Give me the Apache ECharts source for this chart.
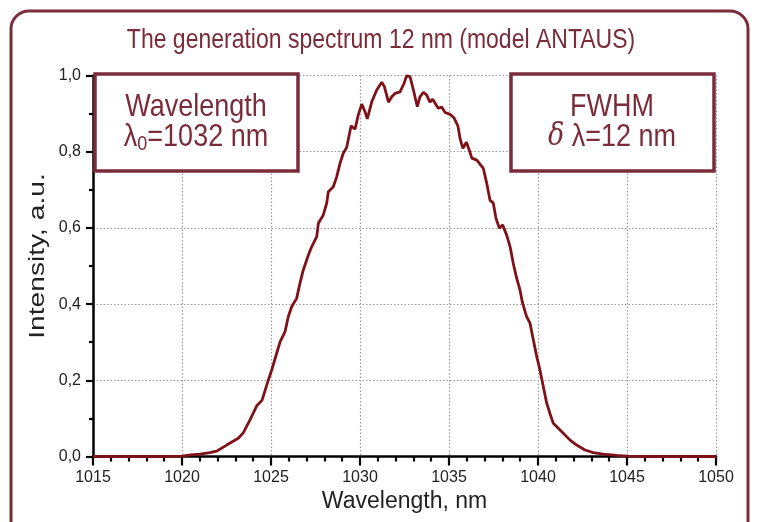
<!DOCTYPE html>
<html>
<head>
<meta charset="utf-8">
<script src="https://cdn.jsdelivr.net/npm/echarts@6/dist/echarts.min.js"></script>
<style>
html,body{margin:0;padding:0;background:#fff;}
#chart{width:758px;height:522px;}
</style>
</head>
<body>
<div id="chart"></div>
<script>
const wavelength = [1015,1016,1017,1018,1019,1020,1020.5,1021.0,1021.57,1021.95,1022.51,1023.16,1023.44,1023.82,1024.2,1024.5,1024.79,1025.04,1025.32,1025.51,1025.79,1025.97,1026.16,1026.44,1026.63,1026.81,1027.1,1027.29,1027.57,1027.66,1027.94,1028.13,1028.22,1028.5,1028.69,1028.88,1029.06,1029.25,1029.5,1029.72,1029.9,1030.1,1030.28,1030.41,1030.66,1030.94,1031.22,1031.37,1031.6,1031.78,1031.97,1032.25,1032.47,1032.62,1032.81,1033.0,1033.22,1033.37,1033.56,1033.74,1033.93,1034.08,1034.27,1034.4,1034.59,1034.78,1035.06,1035.28,1035.5,1035.62,1035.78,1035.98,1036.14,1036.28,1036.56,1036.93,1037.12,1037.3,1037.49,1037.64,1037.83,1038.01,1038.24,1038.43,1038.61,1038.8,1038.99,1039.12,1039.36,1039.55,1039.74,1039.93,1040.11,1040.3,1040.49,1040.67,1040.86,1041.14,1041.42,1041.8,1042.17,1042.64,1043.1,1043.67,1044.42,1045,1046,1047,1048,1049,1050];
const intensity = [0,0,0,0,0,0.001,0.004,0.006,0.01,0.014,0.03,0.048,0.062,0.096,0.133,0.148,0.192,0.227,0.271,0.301,0.328,0.367,0.393,0.415,0.455,0.489,0.529,0.551,0.577,0.612,0.634,0.665,0.695,0.708,0.734,0.77,0.796,0.811,0.868,0.859,0.896,0.925,0.905,0.886,0.931,0.962,0.982,0.971,0.93,0.944,0.953,0.957,0.979,0.999,0.997,0.962,0.918,0.944,0.956,0.949,0.93,0.938,0.923,0.914,0.917,0.903,0.898,0.889,0.868,0.835,0.809,0.825,0.804,0.783,0.778,0.756,0.717,0.673,0.665,0.625,0.599,0.608,0.581,0.551,0.507,0.468,0.437,0.405,0.367,0.35,0.306,0.262,0.227,0.183,0.14,0.113,0.087,0.074,0.061,0.043,0.03,0.017,0.01,0.006,0.003,0.001,0,0,0,0,0];
const xTickLabels = ['1015','1020','1025','1030','1035','1040','1045','1050'];
const yTickLabels = ['0,0','0,2','0,4','0,6','0,8','1,0'];

const titleText = 'The generation spectrum 12 nm (model ANTAUS)';
const xName = 'Wavelength, nm';
const yName = 'Intensity, a.u.';
const maroon = '#7b2c3b';
const curveColor = '#7f1218';
const font = 'Liberation Sans, Arial, sans-serif';

const chart = echarts.init(document.getElementById('chart'));
const seriesData = wavelength.map((w, i) => [w, intensity[i]]);

chart.setOption({
  animation: false,
  backgroundColor: '#fff',
  grid: {left: 93, top: 75.5, width: 623, height: 381, containLabel: false},
  xAxis: {
    type: 'value', min: 1015, max: 1050, interval: 5,
    name: xName, nameLocation: 'middle', nameGap: 31,
    nameTextStyle: {fontSize: 23, color: '#222', fontFamily: font},
    axisLine: {show: true, onZero: false, lineStyle: {color: '#000', width: 2.5}},
    axisTick: {show: true, inside: false, length: 9, lineStyle: {color: '#000', width: 2.2}},
    minorTick: {show: true, splitNumber: 5, length: 5, lineStyle: {color: '#000', width: 2.2}},
    axisLabel: {margin: 13, fontSize: 16, color: '#222', fontFamily: font,
      formatter: v => xTickLabels[Math.round((v - 1015) / 5)]},
    splitLine: {show: true, lineStyle: {type: [1.5, 2], color: '#9a9a9a', width: 1.2}}
  },
  yAxis: {
    type: 'value', min: 0, max: 1, interval: 0.2,
    axisLine: {show: true, onZero: false, lineStyle: {color: '#000', width: 2.5}},
    axisTick: {show: true, inside: false, length: 7, lineStyle: {color: '#000', width: 2.2}},
    minorTick: {show: true, splitNumber: 2, length: 4, lineStyle: {color: '#000', width: 2.2}},
    axisLabel: {margin: 12, fontSize: 16, color: '#222', fontFamily: font,
      formatter: v => yTickLabels[Math.round(v / 0.2)]},
    splitLine: {show: true, lineStyle: {type: [1.5, 2], color: '#9a9a9a', width: 1.2}}
  },
  series: [{
    type: 'line',
    data: seriesData,
    showSymbol: false,
    smooth: false,
    lineStyle: {color: curveColor, width: 2.8},
    z: 3
  }],
  graphic: [
    {type: 'rect', z: 100, shape: {x: 11, y: 11, width: 737, height: 540, r: 18},
     style: {fill: 'none', stroke: maroon, lineWidth: 3}},
    {type: 'text', z: 101, x: 381, y: 40, scaleY: 1.2,
     style: {text: titleText, fill: maroon, font: '23px ' + font, align: 'center', verticalAlign: 'middle'}},
    {type: 'text', z: 101, x: 38, y: 256, rotation: Math.PI / 2, scaleX: 1.28,
     style: {text: yName, fill: '#222', font: '22px ' + font, align: 'center', verticalAlign: 'middle'}},
    {type: 'rect', z: 100, shape: {x: 95, y: 74, width: 203, height: 97},
     style: {fill: '#fff', stroke: maroon, lineWidth: 3.5}},
    {type: 'rect', z: 100, shape: {x: 511, y: 74, width: 203, height: 97},
     style: {fill: '#fff', stroke: maroon, lineWidth: 3.5}},
    {type: 'text', z: 101, x: 196, y: 107, scaleY: 1.15,
     style: {text: 'Wavelength', fill: maroon, font: '27px ' + font, align: 'center', verticalAlign: 'middle'}},
    {type: 'text', z: 101, x: 196, y: 137, scaleY: 1.15,
     style: {text: '{a|λ}{s|0}{a|=1032 nm}', align: 'center', verticalAlign: 'middle',
       rich: {a: {fill: maroon, fontSize: 27, fontFamily: font, lineHeight: 30},
              s: {fill: maroon, fontSize: 18, fontFamily: font, lineHeight: 14, verticalAlign: 'bottom'}}}},
    {type: 'text', z: 101, x: 612, y: 107, scaleY: 1.15,
     style: {text: 'FWHM', fill: maroon, font: '27px ' + font, align: 'center', verticalAlign: 'middle'}},
    {type: 'text', z: 101, x: 612, y: 137, scaleY: 1.15,
     style: {text: '{i|δ}{a| λ=12 nm}', align: 'center', verticalAlign: 'middle',
       rich: {a: {fill: maroon, fontSize: 27, fontFamily: font, lineHeight: 30},
              i: {fill: maroon, fontSize: 27, fontFamily: 'DejaVu Serif, serif', fontStyle: 'italic', lineHeight: 30}}}}
  ]
});
</script>
</body>
</html>
